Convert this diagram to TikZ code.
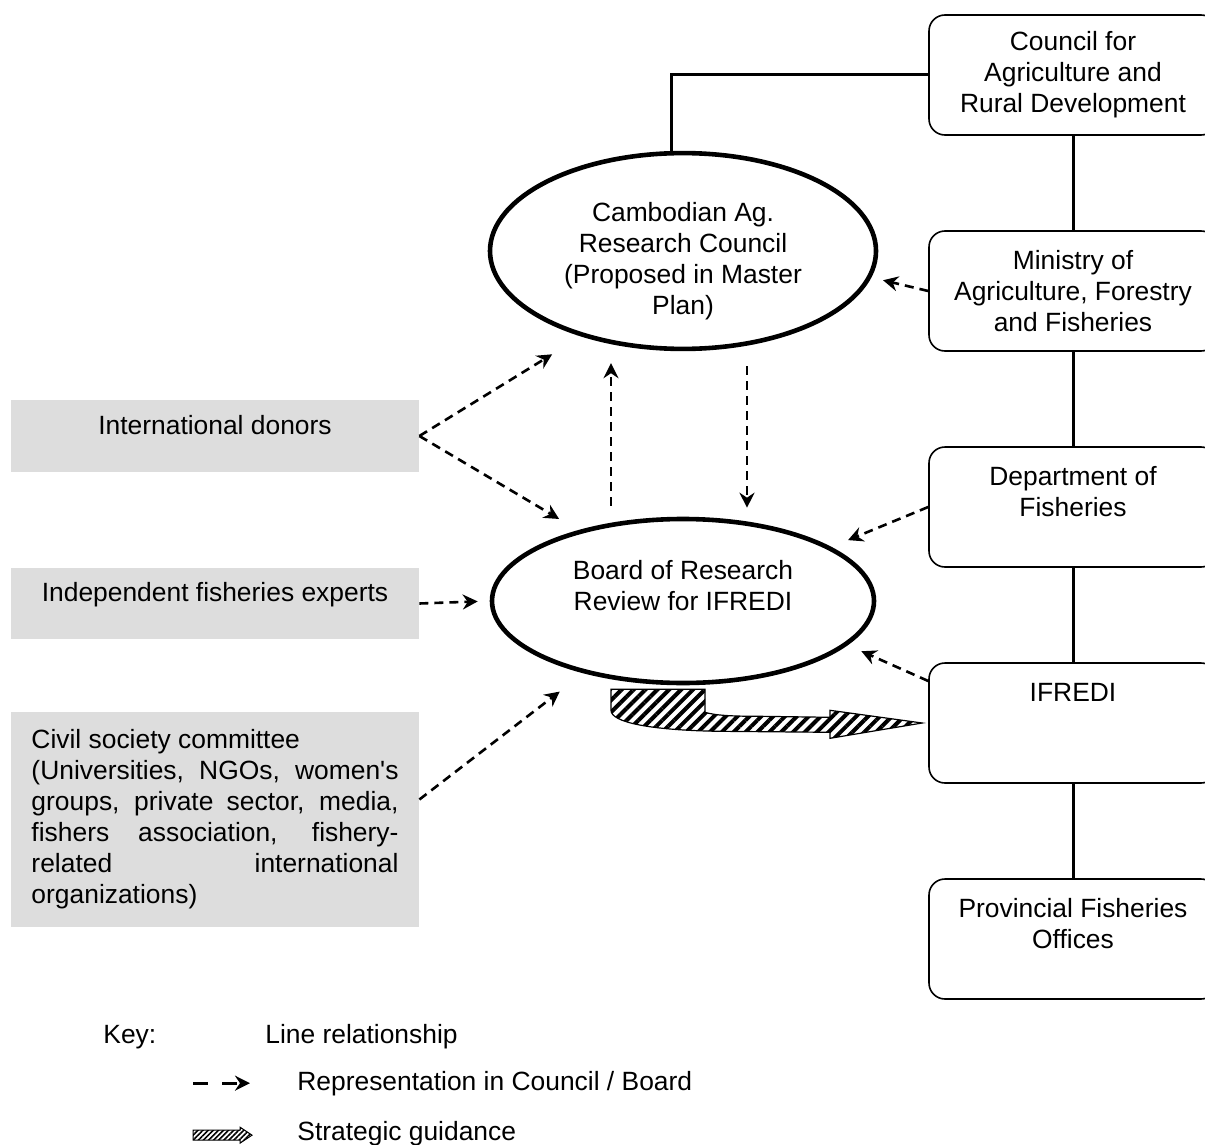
\documentclass[tikz,border=0pt]{standalone}
\usepackage{fontspec}
\setmainfont{Liberation Sans}
\usetikzlibrary{shapes.geometric,arrows.meta,patterns.meta}
\definecolor{boxgray}{RGB}{221,221,221}

\begin{document}
\begin{tikzpicture}[x=0.5pt, y=-0.5pt,
    font=\fontsize{13.2}{15.5}\selectfont,
    org/.style={draw, rounded corners=8pt, line width=0.8pt, minimum width=144pt, minimum height=60pt, align=center, inner sep=2pt},
    party/.style={fill=boxgray, minimum width=204pt, align=center, inner sep=0pt},
    body/.style={ellipse, draw, line width=2.3pt, align=center, inner sep=0pt},
    link/.style={line width=1.5pt},
    rep/.style={dash pattern=on 4.5pt off 3pt, line width=1.3pt, -{Stealth[length=7.5pt,width=7.5pt,inset=2.5pt]}},
    guide/.style={draw, line width=0.6pt, pattern={Lines[angle=45,distance=4.2pt,line width=2pt]}},
    keytext/.style={anchor=base west, inner sep=0pt}]

    \useasboundingbox (0,0) rectangle (1205,1145);

    \node[org] (card) at (1073,75) {Council for\\ Agriculture and\\ Rural Development};
    \node[org] (maff) at (1073,291) {Ministry of\\ Agriculture, Forestry\\ and Fisheries};
    \node[org] (dof) at (1073,507) {Department of\\ Fisheries\\ ~};
    \node[org] (ifredi) at (1073,723) {IFREDI\\ ~\\ ~};
    \node[org] (pfo) at (1073,939) {Provincial Fisheries\\ Offices\\ ~};

    \node[body, minimum width=193pt, minimum height=92pt] (carc) at (683,251) {\rule{0pt}{20pt}Cambodian Ag.\\ Research Council\\ (Proposed in Master\\ Plan)};
    \node[body, minimum width=191pt, minimum height=82pt] (brr) at (683,601) {Board of Research\\ Review for IFREDI\\ ~};

    \node[party, minimum height=36pt, text depth=11pt] (donors) at (215,436) {International donors};
    \node[party, minimum height=35.5pt, text depth=12pt] (experts) at (215,603.5) {Independent fisheries experts};
    \node[party, minimum height=107.5pt, text width=183.5pt, align=justify] (civil) at (215,819.5) {Civil society committee\\ (Universities, NGOs, women\textquotesingle s\linebreak groups, private sector, media,\linebreak fishers association, fishery-\linebreak related international\linebreak organizations)};

    \path[link]
    (card) edge (maff)
    (maff) edge (dof)
    (dof) edge (ifredi)
    (ifredi) edge (pfo);
    \draw[link] ([xshift=-6pt]carc.north) |- (card.west);

    \path[rep]
    (donors.east) edge[shorten >=17pt] (carc.220)
    (donors.east) edge[shorten >=11pt] (brr.146)
    (experts.east) edge[shorten >=6pt] (brr.west)
    ([yshift=10pt]civil.east) edge[shorten >=15pt] (brr.216)
    ([xshift=-36pt]brr.north) edge[shorten <=5.5pt, shorten >=6pt] ([xshift=-36pt]carc.south)
    ([xshift=32pt]carc.south) edge[shorten <=7.5pt, shorten >=4.5pt] ([xshift=32pt]brr.north)
    (maff.west) edge[shorten >=6pt] (carc.352)
    (dof.west) edge[shorten >=9pt] (brr.20)
    ([yshift=21pt]ifredi.west) edge[shorten >=7.5pt] (brr.345);

    \begin{scope}[shift={(brr.south)}]
        \draw[guide] (-72,4) -- (22,4) -- (22,27) .. controls (32,30) and (47,31) .. (77,31) -- (147,32) -- (147,25)
        -- ([xshift=-3pt]ifredi.west) -- (147,53) -- (147,47) -- (37,46) .. controls (-33,45) and (-72,37) .. (-72,25) -- cycle;
    \end{scope}

    \node[keytext] (key) at (103,1043) {Key:};
    \node[keytext] (keyline) at (265,1043) {Line relationship};
    \node[keytext] (keyrep) at (297,1090) {Representation in Council / Board};
    \node[keytext] (keyguide) at (297,1140) {Strategic guidance};
    \draw[rep, dash pattern=on 7.5pt off 7pt, line width=1.5pt] ([xshift=-52pt]keyrep.west) -- ([xshift=-23.5pt]keyrep.west);
    \begin{scope}[shift={(keyguide.west)}]
        \draw[line width=0.5pt, pattern={Lines[angle=45,distance=1.8pt,line width=0.8pt]}]
        (-104,-3) -- (-57,-3) -- (-57,-6) -- (-45,2) -- (-57,10) -- (-57,7) -- (-104,7) -- cycle;
    \end{scope}
\end{tikzpicture}
\end{document}
